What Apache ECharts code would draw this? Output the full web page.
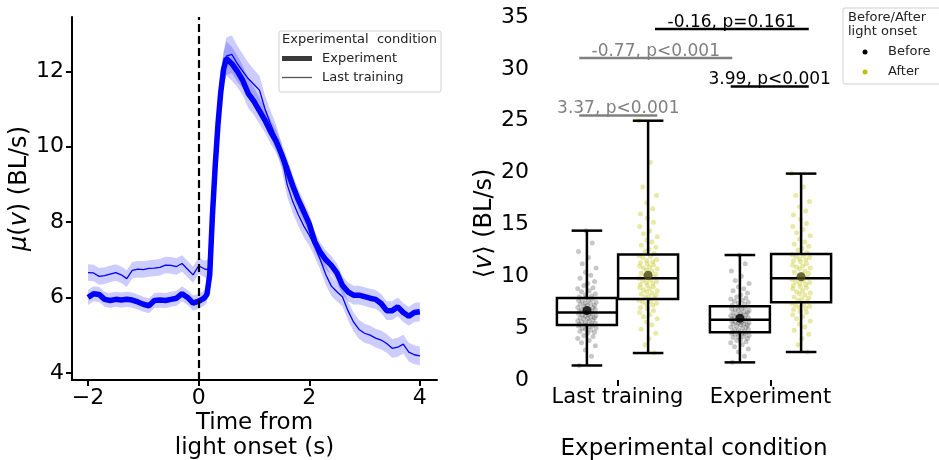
<!DOCTYPE html>
<html>
<head>
<meta charset="utf-8">
<script src="https://cdn.jsdelivr.net/npm/echarts@6/dist/echarts.min.js"></script>
<style>
html,body{margin:0;padding:0;background:#fff;}
#chart{width:939px;height:460px;}
</style>
</head>
<body>
<div id="chart"></div>
<script>
// ---- left panel: mean speed around light onset ----
var time = [-2,-1.9,-1.8,-1.7,-1.6,-1.5,-1.4,-1.3,-1.2,-1.1,-1,-0.9,-0.8,-0.7,-0.6,-0.5,-0.4,-0.3,-0.2,-0.1,0,0.1,
    0.15,0.2,0.25,0.3,0.35,0.4,0.45,0.5,
    0.6,0.7,0.8,0.9,1,1.1,1.2,1.3,1.4,1.5,1.6,1.7,1.8,1.9,2,2.1,2.2,2.3,2.4,2.5,2.6,2.7,2.8,2.9,3,3.1,3.2,3.3,3.4,3.5,3.6,3.7,3.8,3.9,4];
var expMean = [6.00,6.10,6.08,5.95,5.92,5.95,5.93,5.95,5.93,5.88,5.82,5.78,5.92,5.93,5.92,5.95,5.98,6.10,6.00,5.85,5.90,5.98,
    6.08,6.6,8.2,9.5,10.6,11.45,12.05,12.34,
    12.2,12.0,11.75,11.4,11.2,10.95,10.7,10.4,10.15,9.8,9.4,8.97,8.6,8.28,7.95,7.48,7.2,7.0,6.85,6.65,6.32,6.15,6.06,6.06,6.02,5.98,5.95,5.84,5.65,5.65,5.75,5.6,5.5,5.6,5.62];
var expErr = [0.2,0.2,0.2,0.2,0.2,0.2,0.2,0.2,0.2,0.2,0.2,0.2,0.2,0.2,0.2,0.2,0.2,0.2,0.2,0.2,0.2,0.2,
    0.22,0.3,0.4,0.45,0.45,0.45,0.45,0.45,
    0.45,0.42,0.4,0.38,0.36,0.35,0.33,0.32,0.3,0.3,0.3,0.28,0.28,0.27,0.27,0.26,0.25,0.25,0.25,0.25,0.25,0.25,0.25,0.25,0.25,0.25,0.25,0.25,0.25,0.25,0.25,0.25,0.25,0.25,0.25];
var lastMean = [6.66,6.65,6.56,6.58,6.62,6.66,6.6,6.5,6.72,6.75,6.74,6.77,6.78,6.8,6.86,6.85,6.82,6.9,6.75,6.6,6.84,6.76,
    6.74,6.8,8.0,9.4,10.5,11.4,12.0,12.4,
    12.45,12.2,12.0,11.8,11.65,11.5,11.0,10.6,10.25,9.75,9.0,8.55,8.2,7.9,7.65,7.35,7.0,6.6,6.3,6.15,6.02,5.65,5.35,5.15,5.05,5.0,4.92,4.87,4.78,4.65,4.68,4.76,4.55,4.48,4.45];
var lastErr = [0.22,0.22,0.22,0.22,0.22,0.22,0.22,0.22,0.22,0.22,0.22,0.22,0.22,0.22,0.22,0.22,0.22,0.22,0.22,0.22,0.22,0.22,
    0.25,0.3,0.4,0.45,0.5,0.5,0.5,0.5,
    0.5,0.48,0.45,0.42,0.4,0.38,0.36,0.35,0.34,0.33,0.32,0.3,0.3,0.3,0.28,0.28,0.27,0.27,0.26,0.26,0.25,0.25,0.25,0.25,0.25,0.25,0.25,0.25,0.25,0.25,0.25,0.25,0.25,0.25,0.25];
var timeTicks = [-2, 0, 2, 4];
var speedTicks = [4, 6, 8, 10, 12];

// ---- right panel: per-fish speed, before / after light onset ----
var conditions = ['Last training', 'Experiment'];
// [min, q1, median, q3, max]
var boxBefore = [[1.4, 5.3, 6.5, 7.9, 14.4], [1.7, 4.6, 5.8, 7.1, 12.05]];
var boxAfter = [[2.6, 7.8, 9.8, 12.1, 25.0], [2.7, 7.5, 9.8, 12.15, 19.9]];
var meanBefore = [6.7, 5.95];
var meanAfter = [10.1, 9.95];
var ptsBefore = [
  [1.4,2.3,2.9,3.3,3.6,3.8,4.0,4.2,4.3,4.5,4.6,4.7,4.8,4.9,5.0,5.0,5.1,5.2,5.2,5.3,
   5.35,5.4,5.5,5.5,5.6,5.7,5.7,5.8,5.9,5.9,6.0,6.0,6.1,6.2,6.2,6.3,6.3,6.4,6.4,6.5,
   6.6,6.6,6.7,6.8,6.8,6.9,7.0,7.0,7.1,7.2,7.2,7.3,7.4,7.4,7.5,7.6,7.7,7.7,7.8,7.9,
   8.0,8.1,8.2,8.3,8.5,8.6,8.8,8.9,9.1,9.3,9.5,9.8,10.1,10.4,10.8,11.2,11.8,12.4,13.2,14.4],
  [1.7,2.3,2.7,3.0,3.2,3.4,3.6,3.7,3.8,3.9,4.0,4.1,4.2,4.2,4.3,4.4,4.4,4.5,4.5,4.6,
   4.65,4.7,4.8,4.9,4.9,5.0,5.1,5.1,5.2,5.3,5.3,5.4,5.4,5.5,5.5,5.6,5.6,5.7,5.7,5.8,
   5.9,5.9,6.0,6.0,6.1,6.2,6.2,6.3,6.3,6.4,6.5,6.5,6.6,6.7,6.7,6.8,6.9,6.9,7.0,7.1,
   7.2,7.3,7.4,7.5,7.6,7.7,7.8,7.9,8.0,8.2,8.4,8.6,8.8,9.0,9.3,9.6,10.0,10.5,11.2,12.05]
];
var ptsAfter = [
  [2.6,3.4,4.0,4.5,4.9,5.3,5.6,5.9,6.1,6.3,6.5,6.7,6.9,7.0,7.2,7.3,7.4,7.5,7.6,7.7,
   7.9,8.0,8.1,8.2,8.3,8.4,8.5,8.6,8.7,8.8,8.9,9.0,9.1,9.2,9.3,9.4,9.5,9.6,9.7,9.8,
   9.9,10.0,10.1,10.2,10.3,10.5,10.6,10.7,10.8,10.9,11.0,11.1,11.2,11.3,11.4,11.5,11.6,11.8,11.9,12.0,
   12.2,12.4,12.6,12.8,13.0,13.3,13.5,13.8,14.1,14.4,14.8,15.2,15.6,16.0,16.5,17.1,17.8,18.6,21.0,25.0],
  [2.7,3.4,4.0,4.4,4.8,5.1,5.4,5.7,5.9,6.1,6.3,6.5,6.6,6.8,6.9,7.0,7.1,7.2,7.3,7.4,
   7.6,7.7,7.8,7.9,8.0,8.2,8.3,8.4,8.5,8.6,8.8,8.9,9.0,9.1,9.2,9.3,9.4,9.5,9.6,9.7,
   9.9,10.0,10.2,10.3,10.4,10.5,10.7,10.8,10.9,11.0,11.1,11.2,11.4,11.5,11.6,11.7,11.8,11.9,12.0,12.1,
   12.3,12.5,12.7,12.9,13.1,13.3,13.6,13.9,14.2,14.5,14.8,15.1,15.5,15.9,16.3,16.7,17.2,17.8,18.6,19.9]
];
var jitter = [-0.05,0.03,-0.01,0.055,-0.035,0.015,-0.06,0.04,-0.02,0.005,0.05,-0.045,0.025,-0.01,0.06,-0.03,0.01,-0.055,0.035,-0.005];
var statText = ['3.37, p<0.001', '-0.77, p<0.001', '3.99, p<0.001', '-0.16, p=0.161'];
var statY = [25.5, 31.05, 28.3, 33.85];
var statFrom = [-0.25, -0.25, 0.74, 0.245];
var statTo = [0.26, 0.75, 1.25, 1.25];

var FONT = 'DejaVu Sans';
var BOX_OFF = 0.2;

function minus(v) { return String(v).replace('-', '\u2212'); }

// shaded error band drawn as one polygon through the axis scales
function bandSeries(mean, err) {
    return {
        type: 'custom', xAxisIndex: 0, yAxisIndex: 0, silent: true, z: 1,
        data: time.map(function (t, i) { return [t, mean[i] - err[i], mean[i] + err[i]]; }),
        encode: {x: 0, y: [1, 2]},
        renderItem: function (params, api) {
            if (params.dataIndex !== 0) return;
            var upper = [], lower = [];
            for (var i = 0; i < time.length; i++) {
                upper.push(api.coord([time[i], mean[i] + err[i]]));
                lower.unshift(api.coord([time[i], mean[i] - err[i]]));
            }
            return {type: 'polygon', shape: {points: upper.concat(lower)},
                style: {fill: 'rgba(0,0,255,0.2)'}};
        }
    };
}

var beforeData = [], afterData = [], boxData = [], meanData = [];
conditions.forEach(function (c, ci) {
    ptsBefore[ci].forEach(function (v, i) { beforeData.push([ci - BOX_OFF + jitter[i % 20], v]); });
    ptsAfter[ci].forEach(function (v, i) { afterData.push([ci + BOX_OFF + jitter[(i + 7) % 20], v]); });
    boxData.push([ci - BOX_OFF].concat(boxBefore[ci]));
    boxData.push([ci + BOX_OFF].concat(boxAfter[ci]));
    meanData.push({value: [ci - BOX_OFF, meanBefore[ci]], itemStyle: {color: '#000'}});
    meanData.push({value: [ci + BOX_OFF, meanAfter[ci]], itemStyle: {color: '#4a4a10'}});
});
var statData = statText.map(function (s, i) { return [statFrom[i], statTo[i], statY[i]]; });
var statColors = ['#808080', '#808080', '#000', '#000'];

var axisLine = {show: true, onZero: false, lineStyle: {color: '#000', width: 2}};
var axisTick = {show: true, length: 6, lineStyle: {color: '#000', width: 2}};
var labelStyle = {color: '#000', fontSize: 22, fontFamily: FONT};
var italic = {i: {fontStyle: 'italic', fontSize: 24, fontFamily: FONT, color: '#000'}};

var option = {
    animation: false,
    backgroundColor: '#fff',
    grid: [
        {left: 72, right: 502, top: 17, bottom: 80, outerBoundsMode: 'none'},
        {left: 541, width: 306, top: 17, bottom: 80, outerBoundsMode: 'none'}
    ],
    xAxis: [{
        type: 'value', gridIndex: 0, min: -2.29, max: 4.31,
        axisLine: axisLine, splitLine: {show: false},
        axisTick: Object.assign({customValues: timeTicks}, axisTick),
        axisLabel: Object.assign({customValues: timeTicks, margin: 7, formatter: minus}, labelStyle),
        name: 'Time from\nlight onset (s)', nameLocation: 'middle', nameGap: 31, nameMoveOverlap: false,
        nameTextStyle: {color: '#000', fontSize: 23, fontFamily: FONT, lineHeight: 25}
    }, {
        type: 'category', gridIndex: 1, data: conditions,
        axisLine: {show: false, onZero: false}, splitLine: {show: false},
        axisTick: Object.assign({alignWithLabel: true}, axisTick),
        axisLabel: {color: '#000', fontSize: 21, fontFamily: FONT, margin: 7, interval: 0},
        name: 'Experimental condition', nameLocation: 'middle', nameGap: 58, nameMoveOverlap: false,
        nameTextStyle: {color: '#000', fontSize: 23, fontFamily: FONT}
    }, {
        type: 'value', gridIndex: 1, min: -0.5, max: 1.5, show: false,
        axisLine: {onZero: false}
    }],
    yAxis: [{
        type: 'value', gridIndex: 0, min: 3.81, max: 13.44,
        axisLine: axisLine, splitLine: {show: false},
        axisTick: Object.assign({customValues: speedTicks}, axisTick),
        axisLabel: Object.assign({customValues: speedTicks, margin: 8}, labelStyle),
        name: '{i|\u03bc}({i|v}) (BL/s)', nameLocation: 'middle', nameGap: 34,
        nameTextStyle: {color: '#000', fontSize: 24, fontFamily: FONT, rich: italic,
            padding: [0, 0, 0, 20]}
    }, {
        type: 'value', gridIndex: 1, min: 0, max: 35, interval: 5, offset: 6,
        axisLine: {show: false, onZero: false}, splitLine: {show: false}, axisTick: {show: false},
        axisLabel: Object.assign({margin: 6}, labelStyle),
        name: '\u27e8{i|v}\u27e9 (BL/s)', nameLocation: 'middle', nameGap: 33,
        nameTextStyle: {color: '#000', fontSize: 24, fontFamily: FONT, rich: italic,
            padding: [0, 50, 0, 0]}
    }],
    series: [
        bandSeries(expMean, expErr),
        bandSeries(lastMean, lastErr),
        {
            name: 'Experiment', type: 'line', symbol: 'none', z: 3,
            data: time.map(function (t, i) { return [t, expMean[i]]; }),
            lineStyle: {color: '#0000ff', width: 5.5},
            markLine: {
                silent: true, symbol: 'none', label: {show: false}, z: 5,
                lineStyle: {color: '#000', width: 2.2, type: [8, 4]},
                data: [{xAxis: 0}]
            }
        }, {
            name: 'Last training', type: 'line', symbol: 'none', z: 3,
            data: time.map(function (t, i) { return [t, lastMean[i]]; }),
            lineStyle: {color: '#0000ff', width: 1.3}
        }, {
            type: 'scatter', xAxisIndex: 2, yAxisIndex: 1, data: beforeData,
            symbolSize: 5, silent: true, itemStyle: {color: '#000', opacity: 0.22}, z: 2
        }, {
            type: 'scatter', xAxisIndex: 2, yAxisIndex: 1, data: afterData,
            symbolSize: 5, silent: true, itemStyle: {color: '#bfbf00', opacity: 0.35}, z: 2
        }, {
            type: 'custom', xAxisIndex: 2, yAxisIndex: 1, data: boxData, z: 4,
            encode: {x: 0, y: [1, 2, 3, 4, 5]},
            renderItem: function (params, api) {
                var x = api.value(0);
                var pMin = api.coord([x, api.value(1)]);
                var pQ1 = api.coord([x, api.value(2)]);
                var pMed = api.coord([x, api.value(3)]);
                var pQ3 = api.coord([x, api.value(4)]);
                var pMax = api.coord([x, api.value(5)]);
                var l = api.coord([x - 0.196, 0])[0], r = api.coord([x + 0.196, 0])[0];
                var cl = api.coord([x - 0.1, 0])[0], cr = api.coord([x + 0.1, 0])[0];
                var st = {stroke: '#000', lineWidth: 2.5, fill: 'none'};
                return {type: 'group', children: [
                    {type: 'rect', shape: {x: l, y: pQ3[1], width: r - l, height: pQ1[1] - pQ3[1]}, style: st},
                    {type: 'line', shape: {x1: l, y1: pMed[1], x2: r, y2: pMed[1]}, style: st},
                    {type: 'line', shape: {x1: pQ3[0], y1: pQ3[1], x2: pMax[0], y2: pMax[1]}, style: st},
                    {type: 'line', shape: {x1: pQ1[0], y1: pQ1[1], x2: pMin[0], y2: pMin[1]}, style: st},
                    {type: 'line', shape: {x1: cl, y1: pMax[1], x2: cr, y2: pMax[1]}, style: st},
                    {type: 'line', shape: {x1: cl, y1: pMin[1], x2: cr, y2: pMin[1]}, style: st}
                ]};
            }
        }, {
            type: 'scatter', xAxisIndex: 2, yAxisIndex: 1, data: meanData,
            symbolSize: 9, silent: true, z: 5
        }, {
            type: 'custom', xAxisIndex: 2, yAxisIndex: 1, data: statData, z: 5,
            encode: {x: [0, 1], y: 2},
            renderItem: function (params, api) {
                var a = api.coord([api.value(0), api.value(2)]);
                var b = api.coord([api.value(1), api.value(2)]);
                var col = statColors[params.dataIndex];
                return {type: 'group', children: [
                    {type: 'line', shape: {x1: a[0], y1: a[1], x2: b[0], y2: b[1]},
                        style: {stroke: col, lineWidth: 2.5}},
                    {type: 'text', style: {
                        text: statText[params.dataIndex], x: (a[0] + b[0]) / 2, y: a[1] + 2,
                        align: 'center', verticalAlign: 'bottom', fill: col,
                        fontSize: 17, fontFamily: FONT}}
                ]};
            }
        }
    ],
    graphic: [
        // legend of the left panel
        {type: 'rect', shape: {x: 279, y: 31, width: 162, height: 61, r: 2},
            style: {fill: 'rgba(255,255,255,0.8)', stroke: '#d0d0d0', lineWidth: 1}, z: 10},
        {type: 'text', x: 282, y: 40, z: 11, style: {text: 'Experimental  condition', fontSize: 13,
            fontFamily: FONT, fill: '#222', verticalAlign: 'middle'}},
        {type: 'line', z: 11, shape: {x1: 282, y1: 58.5, x2: 312, y2: 58.5}, style: {stroke: '#3a3a3a', lineWidth: 5}},
        {type: 'text', x: 322, y: 58.5, z: 11, style: {text: 'Experiment', fontSize: 13,
            fontFamily: FONT, fill: '#222', verticalAlign: 'middle'}},
        {type: 'line', z: 11, shape: {x1: 282, y1: 77.5, x2: 312, y2: 77.5}, style: {stroke: '#555', lineWidth: 1.3}},
        {type: 'text', x: 322, y: 77.5, z: 11, style: {text: 'Last training', fontSize: 13,
            fontFamily: FONT, fill: '#222', verticalAlign: 'middle'}},
        // legend of the right panel
        {type: 'rect', shape: {x: 843, y: 8, width: 110, height: 76, r: 2},
            style: {fill: 'rgba(255,255,255,0.8)', stroke: '#d0d0d0', lineWidth: 1}, z: 10},
        {type: 'text', x: 848, y: 18, z: 11, style: {text: 'Before/After', fontSize: 13,
            fontFamily: FONT, fill: '#222', verticalAlign: 'middle'}},
        {type: 'text', x: 848, y: 32, z: 11, style: {text: 'light onset', fontSize: 13,
            fontFamily: FONT, fill: '#222', verticalAlign: 'middle'}},
        {type: 'circle', z: 11, shape: {cx: 865, cy: 52, r: 2.5}, style: {fill: '#000'}},
        {type: 'text', x: 888, y: 52, z: 11, style: {text: 'Before', fontSize: 13,
            fontFamily: FONT, fill: '#222', verticalAlign: 'middle'}},
        {type: 'circle', z: 11, shape: {cx: 865, cy: 72, r: 2.5}, style: {fill: '#bfbf00'}},
        {type: 'text', x: 888, y: 72, z: 11, style: {text: 'After', fontSize: 13,
            fontFamily: FONT, fill: '#222', verticalAlign: 'middle'}}
    ]
};

var chart = echarts.init(document.getElementById('chart'));
chart.setOption(option);
</script>
</body>
</html>
